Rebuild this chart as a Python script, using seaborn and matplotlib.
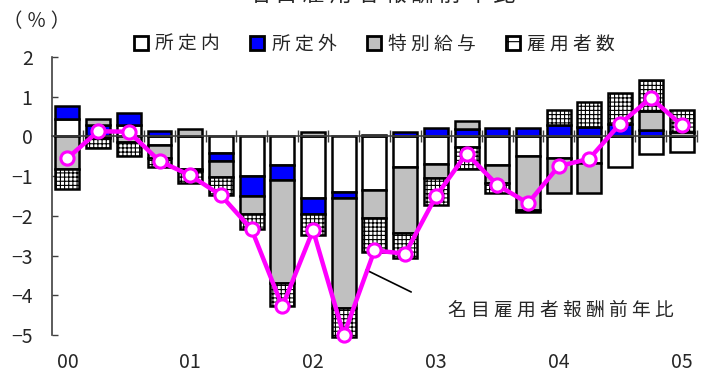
import numpy as np
import matplotlib
matplotlib.use("Agg")
import matplotlib.pyplot as plt
from matplotlib.patches import Patch
import seaborn as sns

# Quarterly contributions (percentage points), 2000Q1 - 2005Q1
quarters = ["00Q1", "00Q2", "00Q3", "00Q4", "01Q1", "01Q2", "01Q3", "01Q4",
            "02Q1", "02Q2", "02Q3", "02Q4", "03Q1", "03Q2", "03Q3", "03Q4",
            "04Q1", "04Q2", "04Q3", "04Q4", "05Q1"]
year_labels = ["00", "01", "02", "03", "04", "05"]

scheduled = [0.45, -0.04, 0.29, -0.21, -0.82, -0.42, -1.00, -0.71, -1.55, -1.39, -1.34,
             -0.76, -0.70, -0.27, -0.71, -0.50, -0.55, -0.67, -0.78, -0.44, -0.38]
overtime = [0.32, 0.29, 0.31, 0.14, -0.05, -0.19, -0.50, -0.38, -0.40, -0.15, 0.03,
            0.12, 0.21, 0.20, 0.21, 0.21, 0.29, 0.25, 0.32, 0.15, 0.0]
bonus = [-0.81, 0.14, -0.14, -0.34, 0.19, -0.40, -0.46, -2.60, 0.12, -2.77, -0.72,
         -1.68, -0.35, 0.18, -0.47, -1.35, -0.87, -0.76, 0.0, 0.50, 0.10]
employees = [-0.51, -0.26, -0.34, -0.21, -0.31, -0.47, -0.38, -0.59, -0.53, -0.73, -0.84,
             -0.63, -0.67, -0.54, -0.25, -0.04, 0.38, 0.62, 0.78, 0.76, 0.57]
total = [-0.55, 0.13, 0.12, -0.62, -0.98, -1.48, -2.34, -4.28, -2.36, -5.00, -2.87,
         -2.95, -1.51, -0.43, -1.22, -1.68, -0.75, -0.56, 0.32, 0.97, 0.29]

series_names = ["所 定 内", "所 定 外", "特 別 給 与", "雇 用 者 数"]
series_faces = ["white", "#0000FF", "#C0C0C0", "white"]
series_hatch = [None, None, None, "++++"]

sns.set_style("white")
plt.rcParams["font.family"] = ["Noto Sans CJK JP", "DejaVu Sans"]
plt.rcParams["hatch.linewidth"] = 0.8
plt.rcParams["hatch.color"] = "black"

fig = plt.figure(figsize=(7.04, 3.74), dpi=100)
ax = fig.add_axes([0.0739, 0.104, 0.916, 0.7436])

idx = np.arange(len(quarters))
pos_base = np.zeros(len(quarters))
neg_base = np.zeros(len(quarters))
edge_lw = 1.8

for vals, face, hatch in zip([scheduled, overtime, bonus, employees],
                             series_faces, series_hatch):
    v = np.asarray(vals, dtype=float)
    bottom = np.where(v >= 0, pos_base, neg_base)
    sns.barplot(x=idx, y=v, native_scale=True, width=0.78, bottom=bottom,
                color=face, saturation=1, edgecolor="black", linewidth=edge_lw,
                hatch=hatch, errorbar=None, ax=ax, zorder=1, clip_on=False)
    pos_base = pos_base + np.clip(v, 0, None)
    neg_base = neg_base + np.clip(v, None, 0)

sns.lineplot(x=idx, y=total, color="#FF00FF", linewidth=3.2, marker="o",
             markersize=9.5, markerfacecolor="white", markeredgecolor="#FF00FF",
             markeredgewidth=2.2, ax=ax, zorder=5, legend=False, clip_on=False)

ax.set_xlim(-0.5, len(quarters) - 0.5)
ax.set_ylim(-5, 2)
ax.set_xlabel("")
ax.set_ylabel("")

axis_col = "#404040"
# y axis
ax.set_yticks(np.arange(-5, 3, 1))
ax.tick_params(axis="y", direction="in", length=4.5, width=1, color=axis_col,
               labelsize=14, pad=14, left=True)
for side in ["top", "right"]:
    ax.spines[side].set_visible(False)
ax.spines["left"].set_color(axis_col)
ax.spines["left"].set_linewidth(1.2)

# zero line with quarter separators
ax.spines["bottom"].set_position(("data", 0))
ax.spines["bottom"].set_color(axis_col)
ax.spines["bottom"].set_linewidth(1.2)
ax.spines["bottom"].set_zorder(3)
ax.set_xticks(np.arange(0.5, len(quarters), 1))
ax.tick_params(axis="x", direction="inout", length=8, width=1, color=axis_col,
               labelbottom=False, bottom=True)

# year labels along the bottom
sec = ax.secondary_xaxis(0)
sec.set_xticks(idx[::4], labels=year_labels)
sec.tick_params(axis="x", length=0, labelsize=14, pad=12)
for s in sec.spines.values():
    s.set_visible(False)

# leader line and label for the total
ax.annotate("名 目 雇 用 者 報 酬 前 年 比", xy=(9.73, -3.36), xytext=(12.4, -4.37),
            fontsize=13.5, ha="left", va="center",
            arrowprops=dict(arrowstyle="-", color="black", lw=1.2,
                            shrinkA=27, shrinkB=0, relpos=(0, 0.5)))

handles = [Patch(facecolor=f, edgecolor="black", linewidth=2.0, hatch=h if h is None else "+")
           for f, h in zip(series_faces, series_hatch)]
fig.legend(handles, series_names, loc="center", bbox_to_anchor=(0.532, 0.882), ncol=4,
           frameon=False, fontsize=13.5, handlelength=0.75, handleheight=0.75,
           handletextpad=0.4, columnspacing=1.6, borderaxespad=0)

fig.text(37 / 704, 1 - 22 / 374, "（ ％ ）", fontsize=14, ha="center", va="center")
fig.text(382 / 704, 1 - 2 / 374, "名 目 雇 用 者 報 酬 前 年 比", fontsize=16,
         ha="center", va="baseline")

fig.savefig("out.png", dpi=100)
